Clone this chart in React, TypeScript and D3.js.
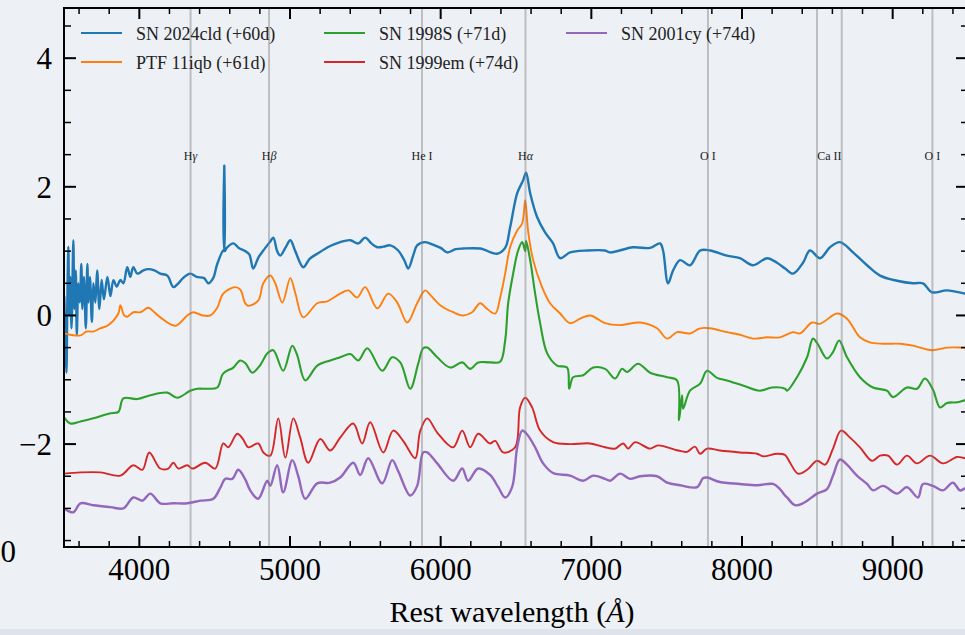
import React from "react";
import * as d3 from "d3";

// ---------- data (wavelength Å, scaled flux + offset) ----------
const sn2024cld: [number, number][] = [
  [3502, 0.3], [3510, -0.5], [3516, -0.89], [3522, 0.2], [3529, 1.07], [3535, 0.0], [3542, 0.6], [3550, -0.2],
  [3562, 1.17], [3569, 0.1], [3578, 0.7], [3585, -0.3], [3595, 0.5], [3605, 0.2], [3615, 0.8], [3622, 0.1],
  [3632, 0.6], [3645, -0.2], [3655, 0.8], [3662, 0.2], [3672, 0.6], [3685, -0.1], [3695, 0.5], [3708, 0.2],
  [3720, 0.7], [3735, 0.1], [3750, 0.55], [3765, 0.25], [3788, 0.6], [3808, 0.3], [3828, 0.55], [3850, 0.45],
  [3874, 0.55], [3894, 0.5], [3920, 0.75], [3940, 0.6], [3960, 0.75], [3987, 0.65], [4027, 0.7], [4060, 0.72],
  [4100, 0.7], [4139, 0.65], [4186, 0.62], [4226, 0.44], [4259, 0.5], [4290, 0.58], [4338, 0.65], [4380, 0.6],
  [4430, 0.58], [4458, 0.5], [4490, 0.58], [4517, 0.8], [4557, 1.01], [4562, 1.0], [4564, 2.33], [4566, 1.0],
  [4580, 1.05], [4624, 1.12], [4660, 1.05], [4703, 1.0], [4730, 0.95], [4756, 0.73], [4790, 0.9], [4823, 1.01],
  [4869, 1.15], [4889, 1.21], [4915, 1.0], [4935, 0.93], [4969, 1.05], [5002, 1.17], [5035, 1.0], [5088, 0.75],
  [5130, 0.88], [5181, 0.96], [5267, 1.08], [5333, 1.14], [5400, 1.17], [5453, 1.12], [5499, 1.21], [5540, 1.12],
  [5579, 1.06], [5620, 1.07], [5665, 1.09], [5718, 1.01], [5760, 0.85], [5785, 0.73], [5820, 0.95], [5844, 1.09],
  [5897, 1.14], [5950, 1.1], [6000, 1.05], [6043, 0.98], [6100, 1.03], [6149, 1.04], [6262, 1.04], [6375, 0.96],
  [6428, 1.05], [6461, 1.37], [6508, 1.9], [6547, 2.1], [6567, 2.22], [6594, 1.9], [6640, 1.53], [6693, 1.29],
  [6746, 1.12], [6793, 0.89], [6859, 0.98], [6972, 1.01], [7091, 1.01], [7125, 0.98], [7277, 1.06], [7390, 1.05],
  [7456, 1.12], [7476, 1.01], [7509, 0.5], [7543, 0.7], [7589, 0.86], [7655, 0.78], [7722, 1.01], [7788, 1.01],
  [7900, 0.93], [7986, 0.89], [8073, 0.78], [8166, 0.89], [8232, 0.82], [8286, 0.73], [8339, 0.65], [8405, 0.82],
  [8451, 1.01], [8518, 0.89], [8584, 1.06], [8650, 1.14], [8737, 0.98], [8830, 0.78], [8916, 0.62], [9029, 0.54],
  [9135, 0.5], [9201, 0.5], [9261, 0.36], [9360, 0.39], [9480, 0.34], [9500, 0.33],
];

const ptf11iqb: [number, number][] = [
  [3502, -0.28], [3540, -0.3], [3609, -0.31], [3650, -0.25], [3695, -0.25], [3740, -0.2], [3788, -0.16], [3861, 0.03],
  [3874, 0.16], [3900, 0.0], [3920, -0.02], [3960, 0.05], [4007, 0.05], [4060, 0.12], [4100, 0.05], [4139, -0.03],
  [4239, -0.16], [4318, 0.0], [4358, 0.05], [4420, 0.0], [4471, 0.0], [4517, 0.12], [4557, 0.34], [4637, 0.44],
  [4670, 0.4], [4703, 0.19], [4723, 0.15], [4789, 0.23], [4823, 0.5], [4869, 0.62], [4902, 0.5], [4949, 0.2],
  [5002, 0.58], [5035, 0.35], [5088, -0.03], [5181, 0.19], [5247, 0.22], [5333, 0.34], [5387, 0.39], [5446, 0.28],
  [5499, 0.44], [5579, 0.11], [5652, 0.34], [5712, 0.2], [5778, -0.11], [5844, 0.19], [5897, 0.39], [5931, 0.32],
  [5997, 0.16], [6083, 0.05], [6149, 0.0], [6209, 0.05], [6262, 0.19], [6309, 0.1], [6362, 0.03], [6395, 0.28],
  [6428, 0.65], [6461, 1.06], [6508, 1.32], [6541, 1.43], [6561, 1.79], [6581, 1.3], [6614, 0.86], [6673, 0.44],
  [6726, 0.19], [6793, 0.03], [6859, -0.12], [6926, -0.05], [6992, 0.0], [7091, -0.12], [7191, -0.15], [7324, -0.11],
  [7436, -0.2], [7503, -0.36], [7569, -0.26], [7655, -0.28], [7722, -0.2], [7788, -0.2], [7900, -0.26], [7986, -0.3],
  [8073, -0.36], [8166, -0.34], [8252, -0.34], [8339, -0.26], [8385, -0.28], [8465, -0.11], [8518, -0.13], [8631, 0.03],
  [8697, -0.05], [8783, -0.34], [8849, -0.42], [8936, -0.44], [9049, -0.44], [9135, -0.47], [9261, -0.54], [9360, -0.5],
  [9480, -0.5], [9500, -0.5],
];

const sn1998S: [number, number][] = [
  [3502, -1.59], [3542, -1.68], [3609, -1.65], [3695, -1.6], [3808, -1.52], [3861, -1.5], [3894, -1.29], [3987, -1.3],
  [4073, -1.24], [4186, -1.2], [4252, -1.28], [4338, -1.17], [4385, -1.14], [4451, -1.14], [4517, -1.12], [4557, -0.9],
  [4624, -0.81], [4670, -0.7], [4703, -0.74], [4750, -0.89], [4803, -0.77], [4849, -0.59], [4889, -0.54], [4955, -0.86],
  [5015, -0.47], [5048, -0.62], [5101, -1.01], [5181, -0.78], [5267, -0.7], [5333, -0.65], [5400, -0.6], [5453, -0.7],
  [5513, -0.51], [5612, -0.86], [5678, -0.65], [5732, -0.73], [5798, -1.14], [5851, -0.75], [5884, -0.51], [5911, -0.5],
  [5977, -0.65], [6063, -0.81], [6143, -0.73], [6196, -0.83], [6249, -0.73], [6328, -0.73], [6395, -0.72], [6428, -0.39],
  [6448, 0.19], [6481, 0.65], [6514, 1.01], [6541, 1.14], [6561, 1.0], [6567, 1.16], [6594, 0.86], [6627, 0.34],
  [6660, -0.12], [6707, -0.59], [6773, -0.78], [6839, -0.81], [6853, -1.14], [6879, -0.96], [6946, -0.93], [7012, -0.81],
  [7091, -0.83], [7158, -0.98], [7204, -0.83], [7237, -0.88], [7310, -0.75], [7390, -0.89], [7503, -0.96], [7569, -1.01],
  [7582, -1.63], [7602, -1.24], [7609, -1.45], [7655, -1.17], [7722, -1.06], [7768, -0.86], [7834, -0.97], [7900, -1.01],
  [8006, -1.09], [8119, -1.17], [8199, -1.12], [8286, -1.14], [8299, -1.17], [8365, -0.96], [8432, -0.65], [8471, -0.36],
  [8504, -0.45], [8564, -0.67], [8604, -0.57], [8644, -0.39], [8697, -0.65], [8783, -0.96], [8869, -1.12], [8962, -1.17],
  [9002, -1.27], [9095, -1.12], [9161, -1.14], [9214, -0.98], [9267, -1.15], [9314, -1.43], [9360, -1.36], [9427, -1.35],
  [9480, -1.32], [9500, -1.32],
];

const sn1999em: [number, number][] = [
  [3502, -2.46], [3609, -2.44], [3741, -2.44], [3874, -2.49], [3960, -2.33], [4020, -2.4], [4066, -2.13], [4139, -2.38],
  [4192, -2.38], [4226, -2.29], [4259, -2.38], [4318, -2.33], [4352, -2.38], [4438, -2.29], [4504, -2.38], [4557, -1.99],
  [4590, -2.05], [4650, -1.84], [4690, -1.93], [4723, -2.05], [4789, -1.99], [4823, -2.13], [4869, -2.18], [4922, -1.6],
  [4969, -2.21], [5022, -1.6], [5068, -1.9], [5121, -2.29], [5201, -1.92], [5267, -2.1], [5333, -1.9], [5420, -1.68],
  [5479, -1.99], [5532, -1.66], [5619, -2.13], [5685, -1.79], [5751, -1.95], [5831, -2.22], [5864, -1.8], [5911, -1.6],
  [5977, -1.82], [6083, -2.05], [6143, -1.79], [6196, -2.05], [6249, -1.84], [6328, -1.99], [6362, -1.95], [6415, -2.13],
  [6494, -2.05], [6527, -1.43], [6561, -1.28], [6607, -1.43], [6660, -1.79], [6746, -1.97], [6859, -2.0], [6992, -1.99],
  [7091, -2.05], [7158, -2.07], [7211, -1.99], [7244, -2.07], [7290, -1.97], [7390, -2.07], [7443, -2.02], [7576, -2.1],
  [7635, -2.12], [7688, -2.04], [7722, -2.15], [7768, -2.07], [7854, -2.1], [7986, -2.13], [8100, -2.15], [8139, -2.19],
  [8232, -2.15], [8286, -2.17], [8319, -2.29], [8372, -2.46], [8432, -2.4], [8498, -2.26], [8551, -2.32], [8604, -2.07],
  [8657, -1.79], [8717, -1.9], [8783, -2.05], [8863, -2.26], [8916, -2.18], [8969, -2.18], [9029, -2.32], [9095, -2.18],
  [9161, -2.3], [9248, -2.18], [9334, -2.3], [9427, -2.2], [9480, -2.22], [9500, -2.22],
];

const sn2001cy: [number, number][] = [
  [3502, -3.0], [3562, -3.06], [3609, -2.92], [3695, -2.95], [3808, -2.98], [3894, -3.0], [3960, -2.83], [4020, -2.88],
  [4073, -2.77], [4139, -2.92], [4226, -2.92], [4318, -2.92], [4405, -2.88], [4491, -2.85], [4537, -2.68], [4571, -2.54],
  [4617, -2.54], [4657, -2.4], [4703, -2.55], [4736, -2.72], [4789, -2.85], [4849, -2.57], [4869, -2.65], [4915, -2.33],
  [4955, -2.75], [5015, -2.25], [5055, -2.5], [5101, -2.85], [5181, -2.61], [5267, -2.6], [5333, -2.52], [5420, -2.29],
  [5466, -2.48], [5519, -2.22], [5612, -2.61], [5678, -2.25], [5718, -2.42], [5798, -2.8], [5844, -2.65], [5884, -2.13],
  [5911, -2.13], [5977, -2.3], [6083, -2.57], [6143, -2.38], [6182, -2.57], [6249, -2.38], [6328, -2.48], [6382, -2.67],
  [6428, -2.83], [6474, -2.67], [6508, -2.05], [6541, -1.79], [6574, -1.85], [6627, -2.05], [6680, -2.3], [6746, -2.45],
  [6859, -2.49], [6946, -2.57], [7012, -2.49], [7091, -2.54], [7125, -2.57], [7191, -2.46], [7257, -2.54], [7324, -2.5],
  [7436, -2.5], [7503, -2.6], [7589, -2.64], [7702, -2.67], [7741, -2.53], [7768, -2.52], [7854, -2.59], [7986, -2.62],
  [8100, -2.64], [8206, -2.62], [8252, -2.7], [8286, -2.8], [8299, -2.83], [8352, -2.95], [8405, -2.92], [8498, -2.77],
  [8564, -2.7], [8604, -2.49], [8650, -2.24], [8697, -2.32], [8763, -2.49], [8830, -2.62], [8869, -2.72], [8936, -2.65],
  [9029, -2.77], [9095, -2.67], [9168, -2.83], [9201, -2.62], [9267, -2.65], [9334, -2.72], [9400, -2.6], [9447, -2.72],
  [9480, -2.69], [9500, -2.69],
];

const seriesNames = ["SN 2024cld (+60d)", "PTF 11iqb (+61d)", "SN 1998S (+71d)", "SN 1999em (+74d)", "SN 2001cy (+74d)"];
const seriesColors = ["#1f77b4", "#ff7f0e", "#2ca02c", "#d62728", "#9467bd"];
const seriesData = [sn2024cld, ptf11iqb, sn1998S, sn1999em, sn2001cy];

const lineWaves = [4340, 4861, 5876, 6563, 7774, 8498, 8662, 9264];
const lineLabels: { main: string; greek?: string; at: number }[] = [
  { main: "H", greek: "γ", at: 4340 },
  { main: "H", greek: "β", at: 4861 },
  { main: "He I", at: 5876 },
  { main: "H", greek: "α", at: 6563 },
  { main: "O I", at: 7774 },
  { main: "Ca II", at: 8580 },
  { main: "O I", at: 9264 },
];

const xMajorTicks = [4000, 5000, 6000, 7000, 8000, 9000];
const yMajorTicks = [4, 2, 0, -2];

// ---------- layout ----------
const W = 965;
const H = 635;
const left = 64;
const right = 968;
const top = 8;
const bottom = 547;
const FONT = "'Liberation Serif', 'DejaVu Serif', 'Times New Roman', serif";

export default function App() {
  const x = d3.scaleLinear().domain([3500, 9500]).range([left, right]);
  const y = d3.scaleLinear().domain([-3.6, 4.78]).range([bottom, top]);
  const line = d3
    .line<[number, number]>()
    .x((d) => x(d[0]))
    .y((d) => y(d[1]))
    .curve(d3.curveCatmullRom.alpha(0.5));

  const xMinor = d3.range(3600, 9500, 200).filter((v) => !xMajorTicks.includes(v));
  const yMinor = d3.range(-3.5, 4.75, 0.5).filter((v) => !yMajorTicks.includes(v) && v !== 0);

  const legendCols = [
    { lx: 81, tx: 136 },
    { lx: 324, tx: 379 },
    { lx: 566, tx: 621 },
  ];
  const legendRows = [33, 62];
  const legendOrder = [
    [0, 0, 0],
    [1, 0, 1],
    [2, 1, 0],
    [3, 1, 1],
    [4, 2, 0],
  ];

  return (
    <div style={{ position: "fixed", left: 0, top: 0, width: W, height: H }}>
      <svg width={W} height={H} viewBox={`0 0 ${W} ${H}`} style={{ display: "block" }}>
        <defs>
          <clipPath id="plotclip">
            <rect x={left} y={top} width={right - left} height={bottom - top} />
          </clipPath>
        </defs>
        <rect x={0} y={0} width={W} height={H} fill="#edf0f5" />

        <g clipPath="url(#plotclip)">
          {seriesData.map((d, i) => (
            <path
              key={i}
              d={line(d) || ""}
              fill="none"
              stroke={seriesColors[i]}
              strokeWidth={i === 0 || i === 4 ? 2.4 : i === 2 ? 2.1 : 1.9}
              strokeLinejoin="round"
            />
          ))}
          {lineWaves.map((w, i) => (
            <line key={i} x1={x(w)} x2={x(w)} y1={top} y2={bottom} stroke="#808080" strokeOpacity={0.45} strokeWidth={2} />
          ))}
        </g>

        {lineLabels.map((l, i) => (
          <text key={i} x={x(l.at)} y={160} textAnchor="middle" fontFamily={FONT} fontSize={12} fill="#222">
            {l.main}
            {l.greek ? <tspan fontStyle="italic">{l.greek}</tspan> : null}
          </text>
        ))}

        {/* frame */}
        <rect x={left} y={top} width={right - left} height={bottom - top} fill="none" stroke="#000" strokeWidth={2} />

        {/* x ticks bottom & top */}
        {xMajorTicks.map((t) => (
          <g key={"xM" + t}>
            <line x1={x(t)} x2={x(t)} y1={bottom} y2={bottom - 11} stroke="#000" strokeWidth={2} />
            <line x1={x(t)} x2={x(t)} y1={top} y2={top + 11} stroke="#000" strokeWidth={2} />
            <text x={x(t)} y={580} textAnchor="middle" fontFamily={FONT} fontSize={31} fill="#000">
              {t}
            </text>
          </g>
        ))}
        {xMinor.map((t) => (
          <g key={"xm" + t}>
            <line x1={x(t)} x2={x(t)} y1={bottom} y2={bottom - 6} stroke="#000" strokeWidth={1.5} />
            <line x1={x(t)} x2={x(t)} y1={top} y2={top + 6} stroke="#000" strokeWidth={1.5} />
          </g>
        ))}

        {/* y ticks left & right */}
        {yMajorTicks.map((t) => (
          <g key={"yM" + t}>
            <line x1={left} x2={left + 12} y1={y(t)} y2={y(t)} stroke="#000" strokeWidth={2} />
            <line x1={right} x2={right - 12} y1={y(t)} y2={y(t)} stroke="#000" strokeWidth={2} />
            <text x={52} y={y(t) + 11} textAnchor="end" fontFamily={FONT} fontSize={31} fill="#000">
              {t < 0 ? "\u2212" + Math.abs(t) : String(t)}
            </text>
          </g>
        ))}
        {yMinor.map((t) => (
          <g key={"ym" + t}>
            <line x1={left} x2={left + 7} y1={y(t)} y2={y(t)} stroke="#000" strokeWidth={1.5} />
            <line x1={right} x2={right - 7} y1={y(t)} y2={y(t)} stroke="#000" strokeWidth={1.5} />
          </g>
        ))}
        <text x={16} y={562} textAnchor="end" fontFamily={FONT} fontSize={31} fill="#000">
          0
        </text>

        {/* legend */}
        {legendOrder.map(([si, col, row]) => (
          <g key={"lg" + si}>
            <line
              x1={legendCols[col].lx}
              x2={legendCols[col].lx + 41}
              y1={legendRows[row]}
              y2={legendRows[row]}
              stroke={seriesColors[si]}
              strokeWidth={2.2}
            />
            <text x={legendCols[col].tx} y={legendRows[row] + 7} fontFamily={FONT} fontSize={18} fill="#222">
              {seriesNames[si]}
            </text>
          </g>
        ))}

        {/* x label */}
        <text x={512} y={622} textAnchor="middle" fontFamily={FONT} fontSize={30} fill="#000">
          Rest wavelength (<tspan fontStyle="italic">Å</tspan>)
        </text>
        <rect x={0} y={629} width={W} height={H - 629} fill="#dee3ec" />
      </svg>
    </div>
  );
}
